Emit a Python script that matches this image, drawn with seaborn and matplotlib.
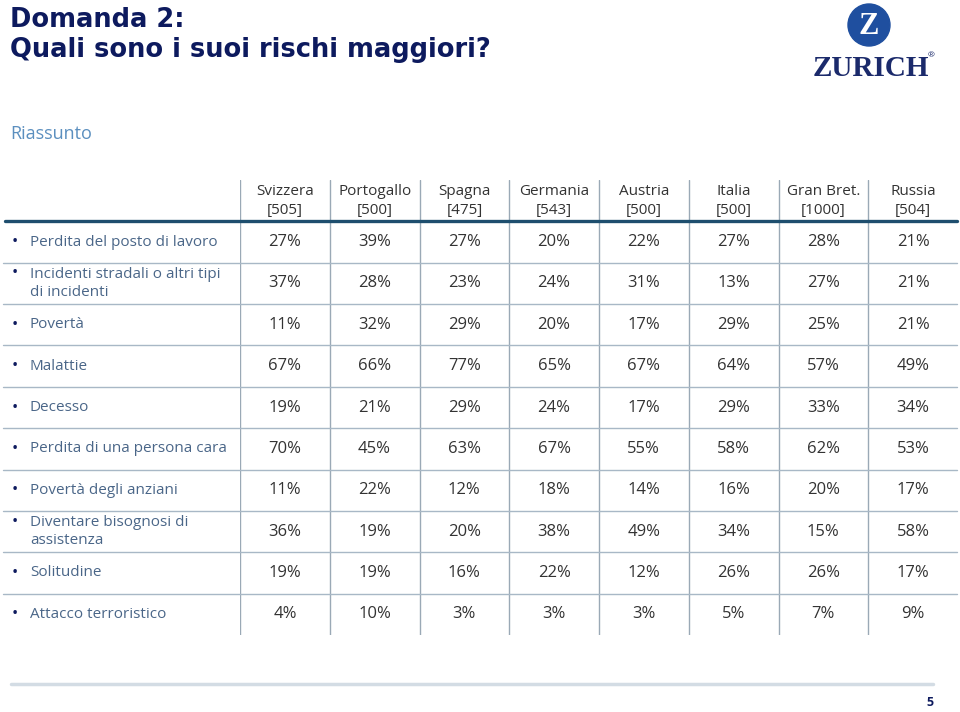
import numpy as np
import pandas as pd
import matplotlib.pyplot as plt
import seaborn as sns
from matplotlib.colors import ListedColormap
from matplotlib.patches import Ellipse
from matplotlib.lines import Line2D

# Dati della tabella
paesi = ["Svizzera", "Portogallo", "Spagna", "Germania", "Austria", "Italia", "Gran Bret.", "Russia"]
campioni = [505, 500, 475, 543, 500, 500, 1000, 504]
rischi = [
    "Perdita del posto di lavoro",
    "Incidenti stradali o altri tipi\ndi incidenti",
    "Povertà",
    "Malattie",
    "Decesso",
    "Perdita di una persona cara",
    "Povertà degli anziani",
    "Diventare bisognosi di\nassistenza",
    "Solitudine",
    "Attacco terroristico",
]
perdita_lavoro = [27, 39, 27, 20, 22, 27, 28, 21]
incidenti = [37, 28, 23, 24, 31, 13, 27, 21]
poverta = [11, 32, 29, 20, 17, 29, 25, 21]
malattie = [67, 66, 77, 65, 67, 64, 57, 49]
decesso = [19, 21, 29, 24, 17, 29, 33, 34]
persona_cara = [70, 45, 63, 67, 55, 58, 62, 53]
poverta_anziani = [11, 22, 12, 18, 14, 16, 20, 17]
bisognosi = [36, 19, 20, 38, 49, 34, 15, 58]
solitudine = [19, 19, 16, 22, 12, 26, 26, 17]
terrorismo = [4, 10, 3, 3, 3, 5, 7, 9]

valori = [perdita_lavoro, incidenti, poverta, malattie, decesso,
          persona_cara, poverta_anziani, bisognosi, solitudine, terrorismo]
df = pd.DataFrame(valori, index=rischi, columns=paesi)
etichette = df.map(lambda v: f"{v}%")

sns.set_style("white")
plt.rcParams['font.family'] = ['Open Sans', 'DejaVu Sans']

NAVY = "#0d1a5e"
LABEL = "#4a6688"
TEXT = "#333333"
LINE = "#a8b8c6"

fig = plt.figure(figsize=(9.6, 7.12), dpi=100)
ax = fig.add_axes([240 / 960, 1 - 635 / 712, 718 / 960, 455 / 712])

sns.heatmap(df, ax=ax, cmap=ListedColormap(["white"]), cbar=False,
            annot=etichette.values, fmt="", annot_kws={"color": TEXT, "fontsize": 12})
ax.set_ylim(len(rischi), -1)
ax.set_xticks([])
ax.set_yticks([])
ax.set_xlabel("")
ax.set_ylabel("")
for s in ax.spines.values():
    s.set_visible(False)

# intestazioni colonne
for j, (p, n) in enumerate(zip(paesi, campioni)):
    ax.text(j + 0.5, -0.5, f"{p}\n[{n}]", ha="center", va="center",
            fontsize=11, color=TEXT, linespacing=1.35)

# linee verticali
for j in range(len(paesi)):
    ax.axvline(j, color="#9aa9b6", lw=1, zorder=3)

# linee orizzontali tra le righe
for i in range(1, len(rischi)):
    ax.axhline(i, xmin=-0.330, xmax=0.9986, color=LINE, lw=1, clip_on=False, zorder=3)
ax.axhline(0, xmin=-0.327, xmax=0.9986, color="#1e4e6e", lw=2.4, clip_on=False, zorder=4)

# etichette delle righe
trans = ax.get_yaxis_transform()
for i, r in enumerate(rischi):
    y_bul = i + 0.5 - (0.24 if "\n" in r else 0)
    ax.text(-0.3134, y_bul, "•", transform=trans, ha="center", va="center",
            fontsize=12, color=NAVY)
    ax.text(-0.2925, i + 0.5, r, transform=trans, ha="left", va="center",
            fontsize=11, color=LABEL, linespacing=1.3)

# titolo
fig.text(10 / 960, 1 - 27 / 712, "Domanda 2:", ha="left", va="baseline",
         fontsize=18.5, fontweight="bold", color=NAVY, family="DejaVu Sans")
fig.text(10 / 960, 1 - 57 / 712, "Quali sono i suoi rischi maggiori?", ha="left", va="baseline",
         fontsize=18.5, fontweight="bold", color=NAVY, family="DejaVu Sans")
fig.text(10 / 960, 1 - 134 / 712, "Riassunto", ha="left", va="center",
         fontsize=13, color="#5b8fbf")

# logo
fig.patches.append(Ellipse((869 / 960, 1 - 25 / 712), 42 / 960, 42 / 712,
                           transform=fig.transFigure, color="#1f4f9f"))
fig.text(869 / 960, 1 - 26 / 712, "Z", ha="center", va="center", color="white",
         fontsize=22, fontweight="bold", family="Liberation Serif")
fig.text(871 / 960, 1 - 69 / 712, "ZURICH", ha="center", va="center", color="#1b2a6b",
         fontsize=21, fontweight="bold", family="Liberation Serif")
fig.text(931 / 960, 1 - 56 / 712, "®", ha="center", va="center", color="#1b2a6b", fontsize=6)

# piè di pagina
fig.add_artist(Line2D([11 / 960, 933 / 960], [1 - 684 / 712] * 2, transform=fig.transFigure,
                      color="#d3dce4", lw=2.5))
fig.text(930 / 960, 1 - 703 / 712, "5", ha="center", va="center", color=NAVY,
         fontsize=9, fontweight="bold")

fig.savefig("out.png", dpi=100)
